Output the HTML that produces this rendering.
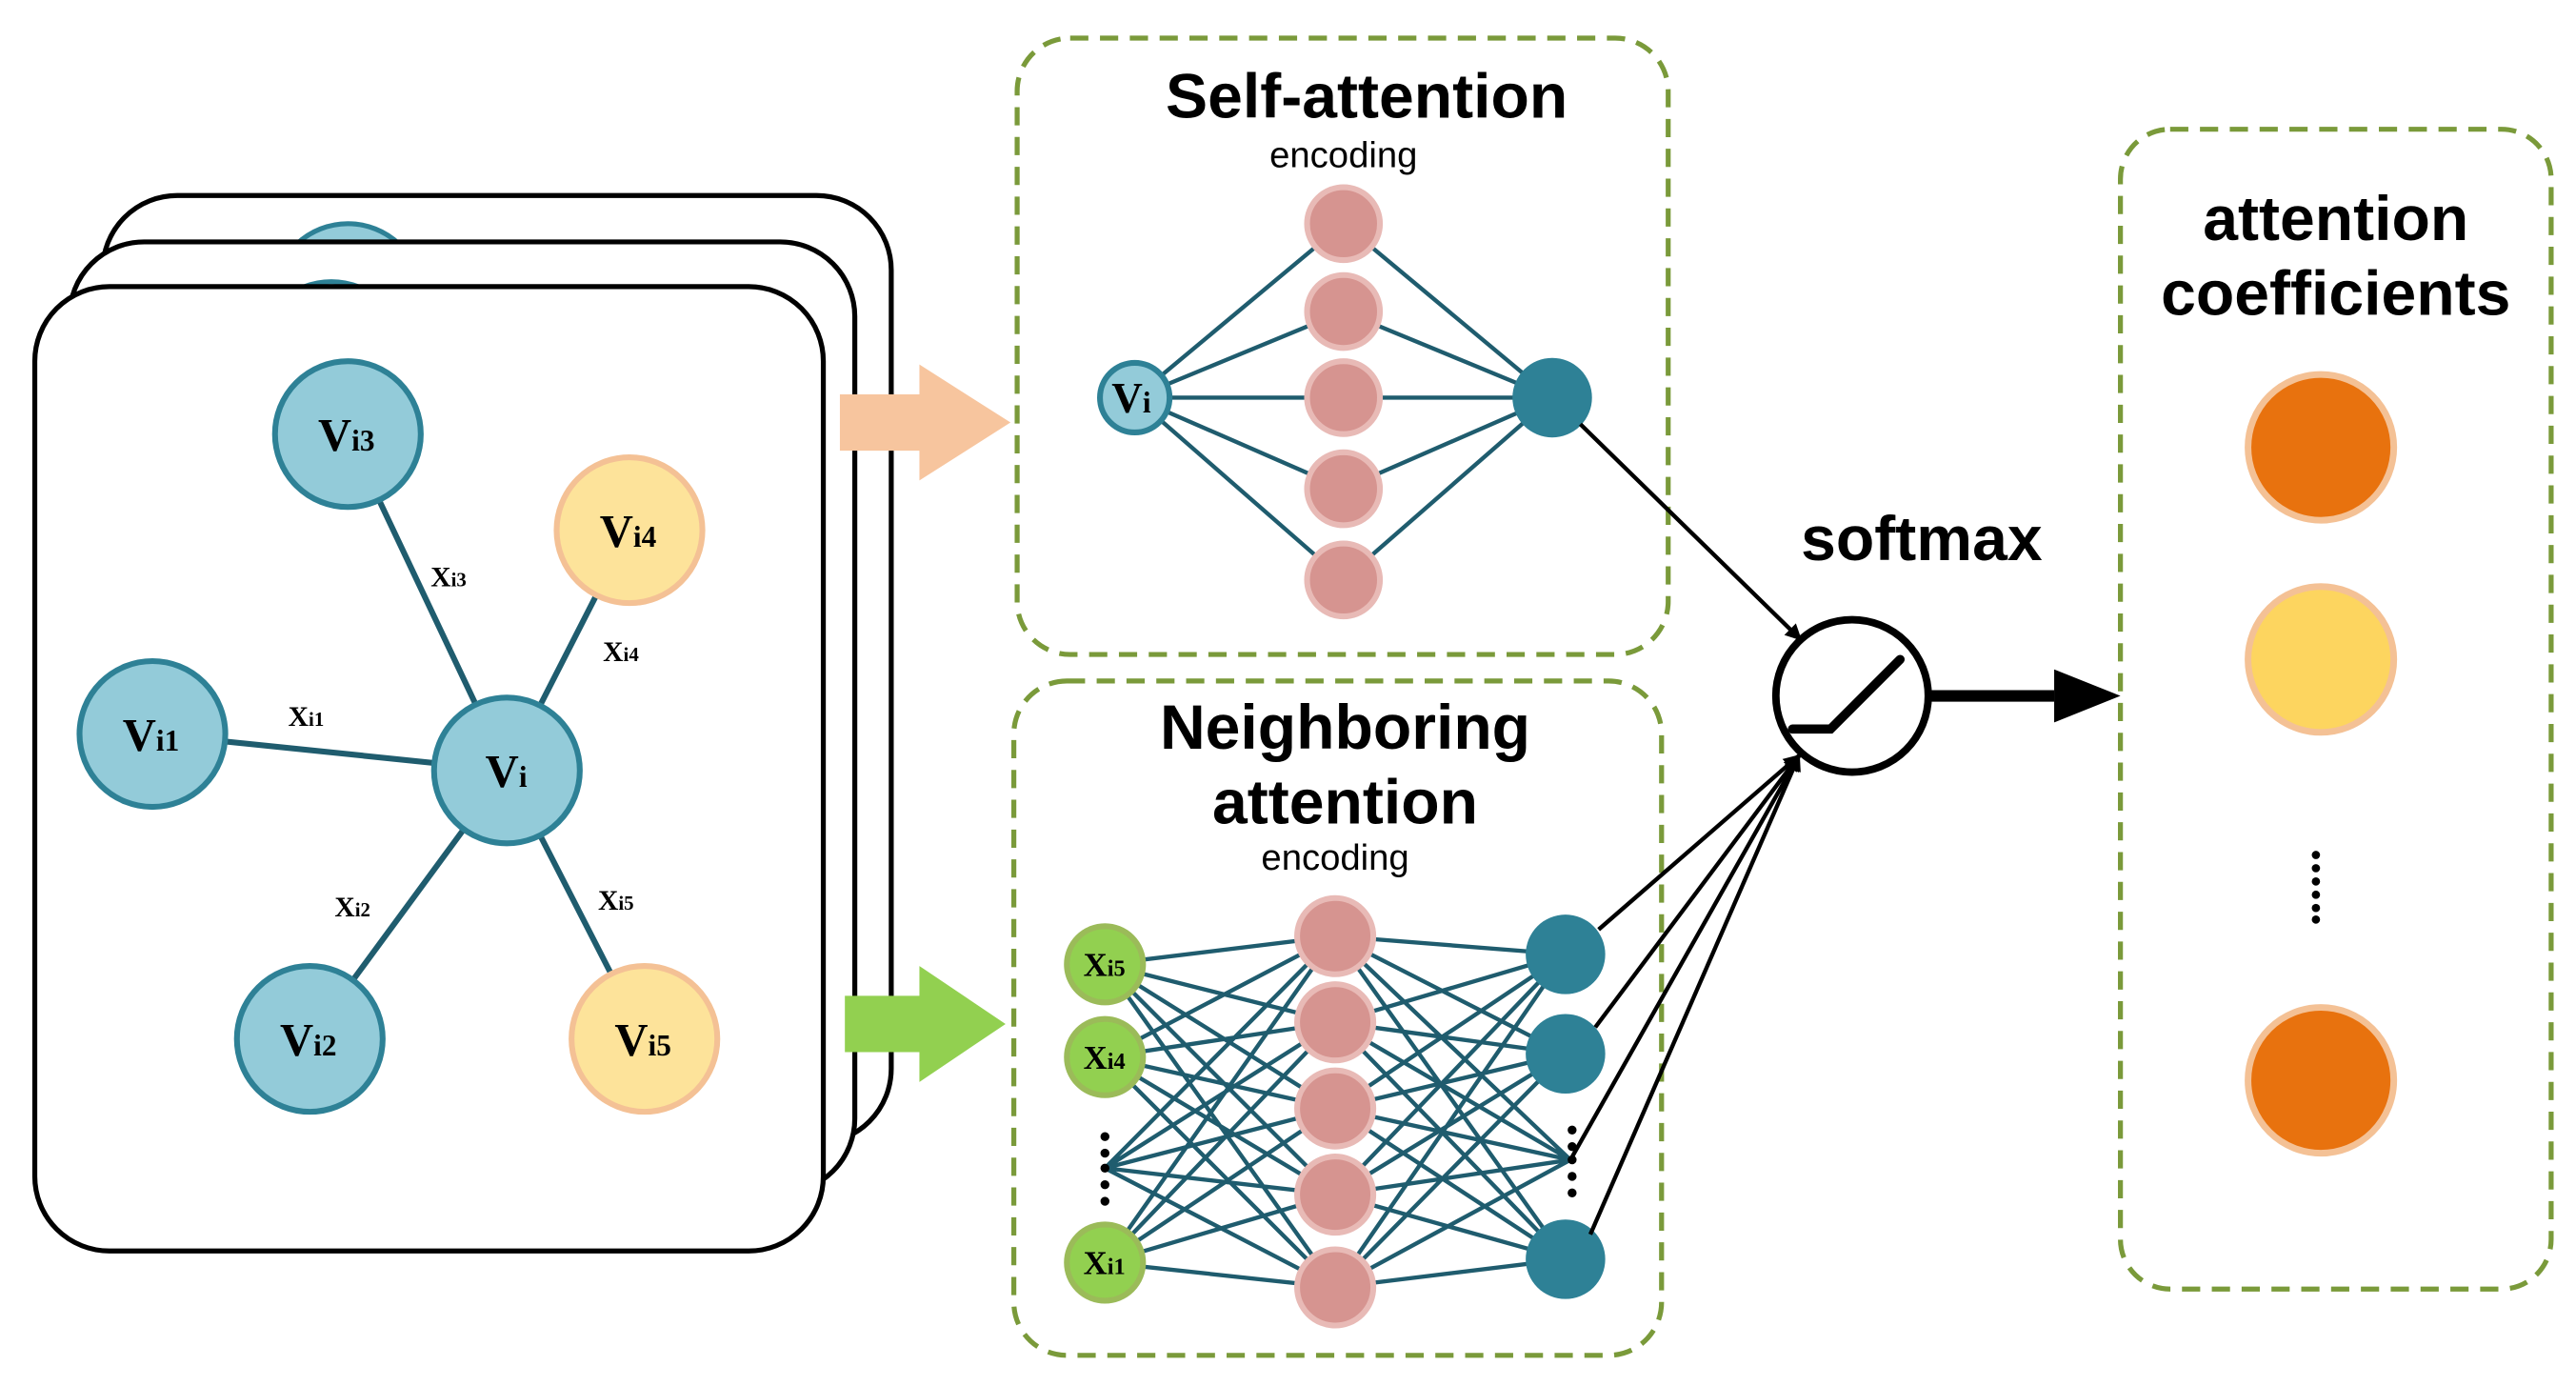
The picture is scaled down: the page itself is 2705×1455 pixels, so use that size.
<!DOCTYPE html>
<html><head><meta charset="utf-8"><style>
html,body{margin:0;padding:0;background:#fff;}
svg{display:block;}
.t{font-family:"Liberation Sans",sans-serif;font-weight:bold;fill:#000;}
.e{font-family:"Liberation Sans",sans-serif;fill:#000;}
.s{font-family:"Liberation Serif",serif;font-weight:bold;fill:#000;}
</style></head><body>
<svg width="2705" height="1455" viewBox="0 0 1555 836.5" preserveAspectRatio="none" xmlns="http://www.w3.org/2000/svg">
<defs>
<marker id="ah" markerWidth="10" markerHeight="10" refX="9" refY="5" orient="auto" markerUnits="userSpaceOnUse"><path d="M0,0 L10,5 L0,10 Z" fill="#000"/></marker>
<marker id="ah2" markerWidth="14" markerHeight="12" refX="13" refY="6" orient="auto" markerUnits="userSpaceOnUse"><path d="M0,0 L14,6 L0,12 Z" fill="#000"/></marker>
</defs>
<!-- stacked cards -->
<rect x="62" y="118" width="476" height="572" rx="45" fill="#fff" stroke="#000" stroke-width="3"/>
<circle cx="210" cy="180" r="45" fill="#93cbd9" stroke="#2e8196" stroke-width="3"/>
<rect x="42" y="146" width="474" height="574" rx="45" fill="#fff" stroke="#000" stroke-width="3"/>
<circle cx="200" cy="215" r="45" fill="#93cbd9" stroke="#2e8196" stroke-width="3"/>
<rect x="21" y="173" width="476" height="582" rx="45" fill="#fff" stroke="#000" stroke-width="3"/>
<!-- graph edges -->
<g stroke="#1f5c6e" stroke-width="3.5">
<line x1="306" y1="465" x2="210" y2="262"/>
<line x1="306" y1="465" x2="380" y2="320"/>
<line x1="306" y1="465" x2="92" y2="443"/>
<line x1="306" y1="465" x2="187" y2="627"/>
<line x1="306" y1="465" x2="389" y2="627"/>
</g>
<g stroke-width="3.5">
<circle cx="210" cy="262" r="44" fill="#93cbd9" stroke="#2e8196"/>
<circle cx="380" cy="320" r="44" fill="#fde39a" stroke="#f4c195"/>
<circle cx="92" cy="443" r="44" fill="#93cbd9" stroke="#2e8196"/>
<circle cx="306" cy="465" r="44" fill="#93cbd9" stroke="#2e8196"/>
<circle cx="187" cy="627" r="44" fill="#93cbd9" stroke="#2e8196"/>
<circle cx="389" cy="627" r="44" fill="#fde39a" stroke="#f4c195"/>
</g>
<g class="s" font-size="28">
<text x="192" y="272">V<tspan font-size="18">i3</tspan></text>
<text x="362" y="330">V<tspan font-size="18">i4</tspan></text>
<text x="74" y="453">V<tspan font-size="18">i1</tspan></text>
<text x="293" y="475">V<tspan font-size="18">i</tspan></text>
<text x="169" y="637">V<tspan font-size="18">i2</tspan></text>
<text x="371" y="637">V<tspan font-size="18">i5</tspan></text>
</g>
<g class="s" font-size="17">
<text x="260" y="354">X<tspan font-size="12">i3</tspan></text>
<text x="364" y="399">X<tspan font-size="12">i4</tspan></text>
<text x="174" y="438">X<tspan font-size="12">i1</tspan></text>
<text x="202" y="553">X<tspan font-size="12">i2</tspan></text>
<text x="361" y="549">X<tspan font-size="12">i5</tspan></text>
</g>
<!-- arrows -->
<path d="M507,238 L555,238 L555,220 L610,255 L555,290 L555,272 L507,272 Z" fill="#f7c59e"/>
<path d="M510,601 L555,601 L555,583 L607,618 L555,653 L555,635 L510,635 Z" fill="#92d050"/>
<!-- self-attention box -->
<rect x="614" y="23" width="393" height="372" rx="32" fill="none" stroke="#7a9a3a" stroke-width="3" stroke-dasharray="11 7"/>
<text class="t" x="825" y="71" font-size="38" text-anchor="middle">Self-attention</text>
<text class="e" x="811" y="101" font-size="22" text-anchor="middle">encoding</text>
<g stroke="#1f5c6e" stroke-width="2.5">
<line x1="685" y1="240" x2="811" y2="135"/><line x1="685" y1="240" x2="811" y2="188"/><line x1="685" y1="240" x2="811" y2="240"/><line x1="685" y1="240" x2="811" y2="295"/><line x1="685" y1="240" x2="811" y2="350"/>
<line x1="937" y1="240" x2="811" y2="135"/><line x1="937" y1="240" x2="811" y2="188"/><line x1="937" y1="240" x2="811" y2="240"/><line x1="937" y1="240" x2="811" y2="295"/><line x1="937" y1="240" x2="811" y2="350"/>
</g>
<g fill="#d69490" stroke="#e8bab6" stroke-width="3.5">
<circle cx="811" cy="135" r="22"/><circle cx="811" cy="188" r="22"/><circle cx="811" cy="240" r="22"/><circle cx="811" cy="295" r="22"/><circle cx="811" cy="350" r="22"/>
</g>
<circle cx="685" cy="240" r="21" fill="#93cbd9" stroke="#2e8196" stroke-width="3.5"/>
<text class="s" x="671" y="249" font-size="26">V<tspan font-size="18">i</tspan></text>
<circle cx="937" cy="240" r="24" fill="#2e8196"/>
<!-- neighboring box -->
<rect x="612" y="411" width="391" height="407" rx="32" fill="none" stroke="#7a9a3a" stroke-width="3" stroke-dasharray="11 7"/>
<text class="t" x="812" y="452" font-size="38" text-anchor="middle">Neighboring</text>
<text class="t" x="812" y="497" font-size="38" text-anchor="middle">attention</text>
<text class="e" x="806" y="525" font-size="22" text-anchor="middle">encoding</text>
<g stroke="#1f5c6e" stroke-width="2.5">
<path d="M667,582L806,565M667,582L806,617M667,582L806,669M667,582L806,721M667,582L806,777
M667,638L806,565M667,638L806,617M667,638L806,669M667,638L806,721M667,638L806,777
M667,705L806,565M667,705L806,617M667,705L806,669M667,705L806,721M667,705L806,777
M667,762L806,565M667,762L806,617M667,762L806,669M667,762L806,721M667,762L806,777
M945,576L806,565M945,576L806,617M945,576L806,669M945,576L806,721M945,576L806,777
M945,636L806,565M945,636L806,617M945,636L806,669M945,636L806,721M945,636L806,777
M948,700L806,565M948,700L806,617M948,700L806,669M948,700L806,721M948,700L806,777
M945,760L806,565M945,760L806,617M945,760L806,669M945,760L806,721M945,760L806,777"/>
</g>
<g fill="#d69490" stroke="#e8bab6" stroke-width="3.5">
<circle cx="806" cy="565" r="23"/><circle cx="806" cy="617" r="23"/><circle cx="806" cy="669" r="23"/><circle cx="806" cy="721" r="23"/><circle cx="806" cy="777" r="23"/>
</g>
<g fill="#92d050" stroke="#9bbb59" stroke-width="3.5">
<circle cx="667" cy="582" r="23"/><circle cx="667" cy="638" r="23"/><circle cx="667" cy="762" r="23"/>
</g>
<g class="s" font-size="20">
<text x="654" y="589">X<tspan font-size="14">i5</tspan></text>
<text x="654" y="645">X<tspan font-size="14">i4</tspan></text>
<text x="654" y="769">X<tspan font-size="14">i1</tspan></text>
</g>
<g fill="#000">
<circle cx="667" cy="686" r="2.7"/><circle cx="667" cy="696" r="2.7"/><circle cx="667" cy="705" r="2.7"/><circle cx="667" cy="715" r="2.7"/><circle cx="667" cy="725" r="2.7"/>
<circle cx="949" cy="682" r="2.7"/><circle cx="949" cy="692" r="2.7"/><circle cx="949" cy="700" r="2.7"/><circle cx="949" cy="710" r="2.7"/><circle cx="949" cy="720" r="2.7"/>
</g>
<g fill="#2e8196">
<circle cx="945" cy="576" r="24"/><circle cx="945" cy="636" r="24"/><circle cx="945" cy="760" r="24"/>
</g>
<!-- connectors to softmax -->
<g stroke="#000" stroke-width="2.5" fill="none">
<line x1="954" y1="256" x2="1087" y2="386" marker-end="url(#ah)"/>
<line x1="965" y1="561" x2="1086" y2="456" marker-end="url(#ah)"/>
<line x1="963" y1="620" x2="1086" y2="456" marker-end="url(#ah)"/>
<line x1="948" y1="700" x2="1086" y2="456" marker-end="url(#ah)"/>
<line x1="960" y1="745" x2="1086" y2="456" marker-end="url(#ah)"/>
</g>
<text class="t" x="1160" y="338" font-size="38" text-anchor="middle">softmax</text>
<circle cx="1118" cy="420" r="46" fill="#fff" stroke="#000" stroke-width="4.5"/>
<polyline points="1082,440 1105,440 1147,398" fill="none" stroke="#000" stroke-width="5.5" stroke-linecap="round"/>
<line x1="1165" y1="420" x2="1240" y2="420" stroke="#000" stroke-width="7"/>
<path d="M1240,404 L1280,420 L1240,436 Z" fill="#000"/>
<!-- right box -->
<rect x="1280" y="78" width="260" height="700" rx="30" fill="none" stroke="#7a9a3a" stroke-width="3" stroke-dasharray="11 7"/>
<text class="t" x="1410" y="145" font-size="38" text-anchor="middle">attention</text>
<text class="t" x="1410" y="190" font-size="38" text-anchor="middle">coefficients</text>
<circle cx="1401" cy="270" r="44" fill="#e8720e" stroke="#f4c195" stroke-width="4"/>
<circle cx="1401" cy="398" r="44" fill="#fdd55f" stroke="#f4c195" stroke-width="4"/>
<circle cx="1401" cy="652" r="44" fill="#e8720e" stroke="#f4c195" stroke-width="4"/>
<g fill="#000">
<circle cx="1398" cy="516" r="2.5"/><circle cx="1398" cy="524" r="2.5"/><circle cx="1398" cy="532" r="2.5"/><circle cx="1398" cy="540" r="2.5"/><circle cx="1398" cy="548" r="2.5"/><circle cx="1398" cy="555" r="2.5"/>
</g>
</svg>
</body></html>
